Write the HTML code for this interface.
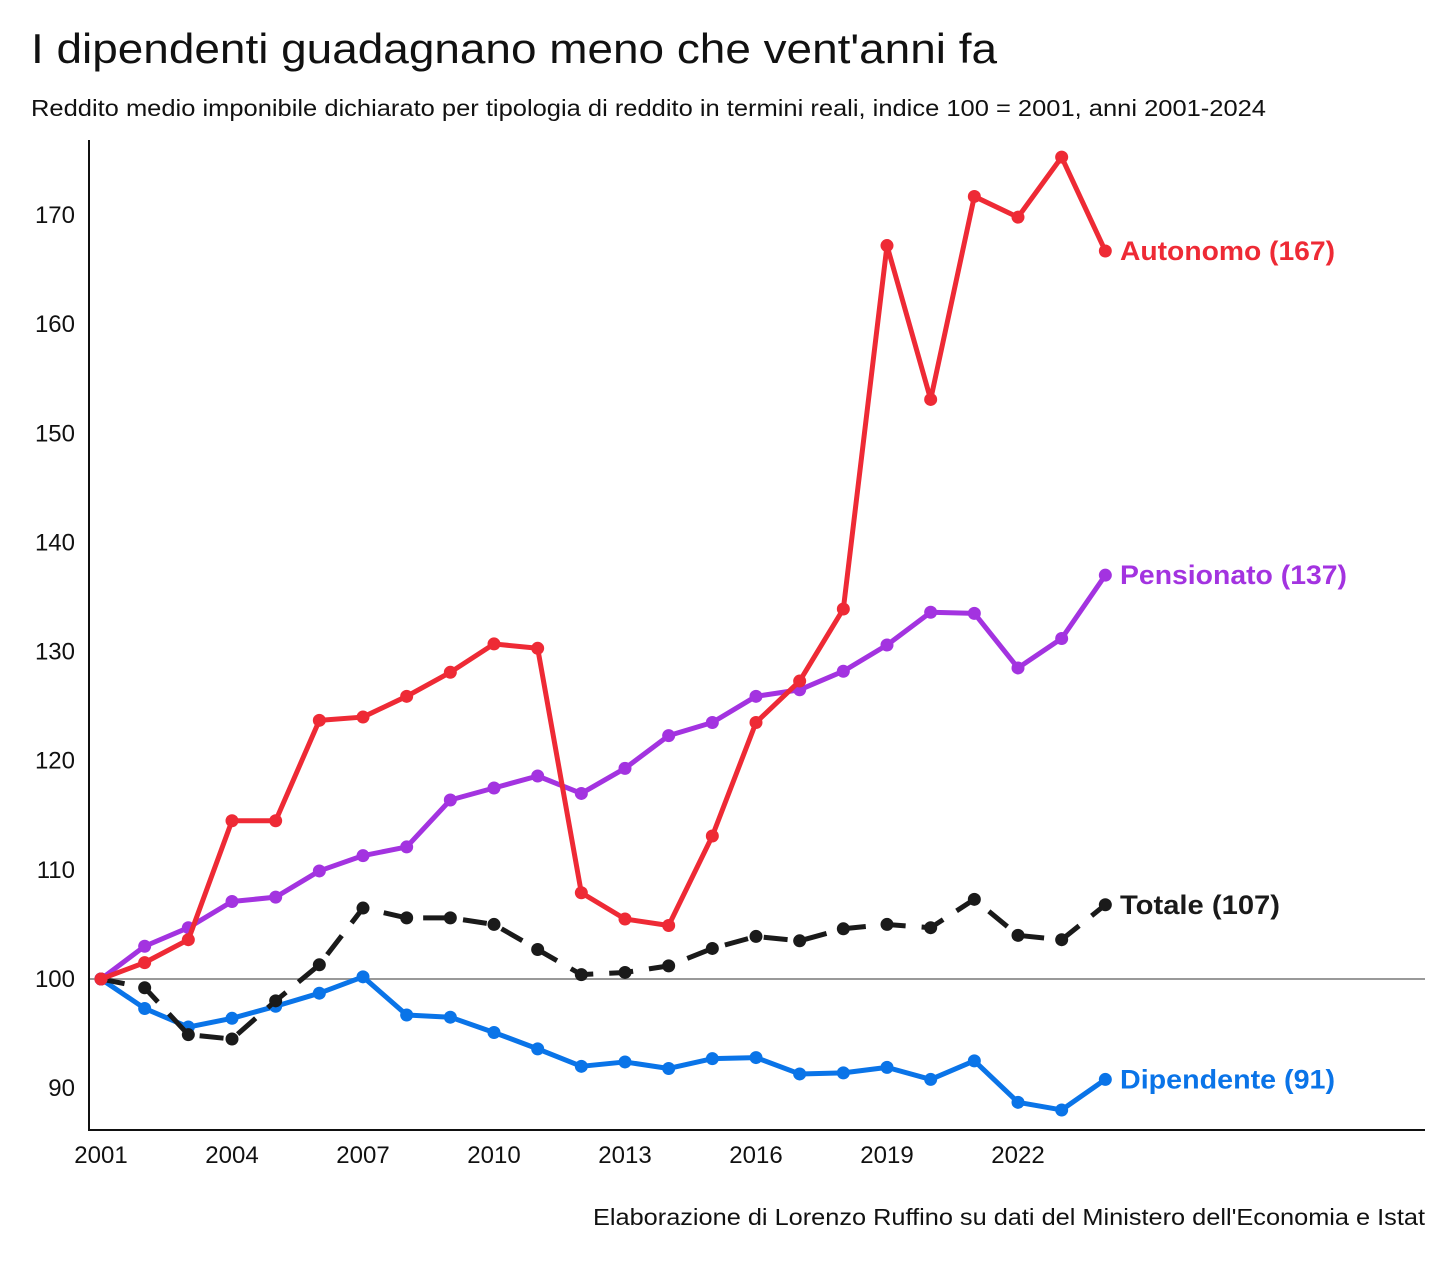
<!DOCTYPE html>
<html><head><meta charset="utf-8"><style>
body{margin:0;background:#fff;width:1456px;height:1262px;overflow:hidden;font-family:"Liberation Sans",sans-serif}
</style></head><body>
<svg width="1456" height="1262" xmlns="http://www.w3.org/2000/svg" id="chart" font-family="Liberation Sans, sans-serif">
<text x="31" y="63" font-size="42" fill="#111" textLength="966" lengthAdjust="spacingAndGlyphs">I dipendenti guadagnano meno che vent'anni fa</text>
<text x="31" y="116" font-size="23" fill="#111" textLength="1235" lengthAdjust="spacingAndGlyphs">Reddito medio imponibile dichiarato per tipologia di reddito in termini reali, indice 100 = 2001, anni 2001-2024</text>
<text x="593" y="1225" font-size="23" fill="#111" textLength="832" lengthAdjust="spacingAndGlyphs">Elaborazione di Lorenzo Ruffino su dati del Ministero dell'Economia e Istat</text>
<g id="axes"></g><g id="series"></g>
</svg>
<script>
const years=[2001,2002,2003,2004,2005,2006,2007,2008,2009,2010,2011,2012,2013,2014,2015,2016,2017,2018,2019,2020,2021,2022,2023,2024];
const autonomo=[100,101.5,103.6,114.5,114.5,123.7,124.0,125.9,128.1,130.7,130.3,107.9,105.5,104.9,113.1,123.5,127.3,133.9,167.2,153.1,171.7,169.8,175.3,166.7];
const pensionato=[100,103.0,104.7,107.1,107.5,109.9,111.3,112.1,116.4,117.5,118.6,117.0,119.3,122.3,123.5,125.9,126.5,128.2,130.6,133.6,133.5,128.5,131.2,137.0];
const totale=[100,99.2,94.9,94.5,98.0,101.3,106.5,105.6,105.6,105.0,102.7,100.4,100.6,101.2,102.8,103.9,103.5,104.6,105.0,104.7,107.3,104.0,103.6,106.8];
const dipendente=[100,97.3,95.6,96.4,97.5,98.7,100.2,96.7,96.5,95.1,93.6,92.0,92.4,91.8,92.7,92.8,91.3,91.4,91.9,90.8,92.5,88.7,88.0,90.8];
const yTicks=[90,100,110,120,130,140,150,160,170];
const xTicks=[2001,2004,2007,2010,2013,2016,2019,2022];
const NS="http://www.w3.org/2000/svg";
const X=y=>101+(y-2001)*(1018-101)/21;
const Y=v=>979-(v-100)*(979-215)/70;
function mk(t,a,p){const e=document.createElementNS(NS,t);for(const k in a)e.setAttribute(k,a[k]);p.appendChild(e);return e;}
const ax=document.getElementById('axes'), sr=document.getElementById('series');
let l=mk('line',{x1:89,y1:979,x2:1425,y2:979,stroke:'#999','stroke-width':2},ax);


l=mk('line',{x1:89,y1:140,x2:89,y2:1130,stroke:'#111','stroke-width':2},ax);


l=mk('line',{x1:88,y1:1130,x2:1425,y2:1130,stroke:'#111','stroke-width':2},ax);


yTicks.forEach(v=>{const t=mk('text',{x:75,y:Y(v)+8,'font-size':24,'text-anchor':'end',fill:'#111'},ax);t.textContent=v;

});
xTicks.forEach(v=>{const t=mk('text',{x:X(v),y:1163,'font-size':24,'text-anchor':'middle',fill:'#111'},ax);t.textContent=v;

});
const S=[[dipendente,'#0a74e8','Dipendente (91)',null,'dipendente',215],[totale,'#1a1a1a','Totale (107)','24 16','totale',160],[pensionato,'#a333e0','Pensionato (137)',null,'pensionato',227],[autonomo,'#ee2a35','Autonomo (167)',null,'autonomo',215]];
S.forEach(([d,c,lab,dash,n,w])=>{
const g=mk('g',{},sr);


const a={points:d.map((v,i)=>X(years[i])+','+Y(v)).join(' '),fill:'none',stroke:c,'stroke-width':5,'stroke-linejoin':'round'};
if(dash)a['stroke-dasharray']=dash;
const p=mk('polyline',a,g);


d.forEach((v,i)=>{const m=mk('circle',{cx:X(years[i]),cy:Y(v),r:6.5,fill:c},g);

});
const t=mk('text',{x:1120,y:Y(d[d.length-1])+9,'font-size':27,'font-weight':'bold',fill:c,textLength:w,lengthAdjust:'spacingAndGlyphs'},g);t.textContent=lab;


});
</script>
</body></html>
